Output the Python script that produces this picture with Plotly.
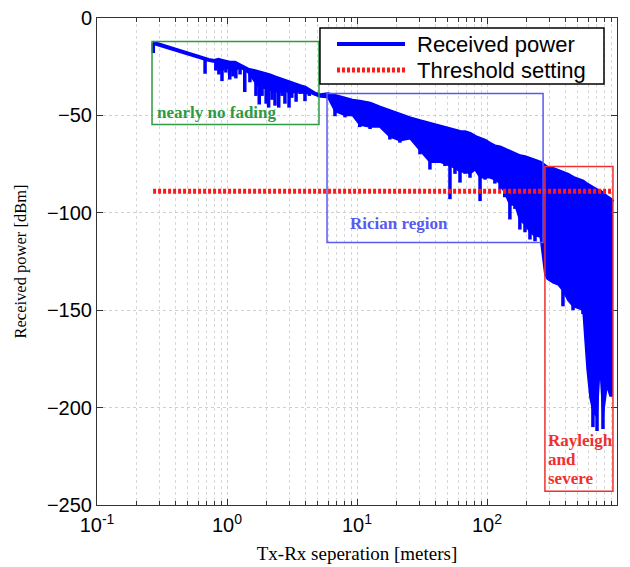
import numpy as np
import plotly.graph_objects as go

# ---- data ----
dist = [0.27, 0.30, 0.60, 0.68, 0.72, 0.80, 0.86, 0.92, 0.98, 1.05, 1.15, 1.26, 1.37, 1.45,
        1.64, 1.79, 1.96, 2.14, 2.34, 2.56, 2.79, 3.05, 3.34, 3.65, 3.98, 4.35, 4.75, 5.19,
        5.98, 6.77, 8.09, 9.2, 10.5, 12.6, 15.0, 17.9, 21.4, 25.6, 30.5, 36.4, 43.5, 47.5,
        51.9, 56.7, 62, 67.7, 74, 80.9, 88.4, 96.6, 105, 115, 126, 137, 150, 164, 179, 196,
        214, 234, 256, 279, 290, 322, 352, 384, 420, 459, 501, 547, 588, 620, 653, 702, 740,
        780, 838, 883, 931]

# upper envelope of received power (dBm)
power_top = [-12.7, -13.7, -20.0, -21.0, -21.5, -22.0, -21.5, -22.0, -22.5, -23.0, -23.0, -24.5,
             -25.5, -26.5, -27.3, -28.0, -28.5, -29.5, -30.5, -31.5, -32.0, -33.0, -34.0, -35.0,
             -35.7, -37.5, -38.9, -39.7, -39.2, -40.0, -41.5, -42.5, -43.0, -44.0, -46.0, -48.0,
             -49.5, -51.5, -53.0, -54.5, -55.5, -56.5, -57.0, -57.8, -58.5, -58.7, -59.5, -61.0,
             -62.0, -63.0, -64.5, -66.0, -66.5, -67.5, -68.5, -69.5, -71.0, -71.5, -72.5, -73.0,
             -74.2, -76.0, -76.8, -77.5, -78.5, -79.3, -80.5, -82.0, -83.0, -84.0, -85.5, -86.5,
             -87.5, -88.5, -89.0, -90.5, -92.0, -93.0, -94.5]

# lower edge of the dense fading band (dBm)
power_floor = [-12.7, -13.7, -20.0, -21.0, -21.5, -22.0, -26.0, -27.0, -25.0, -27.0, -27.0, -25.5,
               -27.0, -28.0, -33.0, -36.0, -36.0, -37.0, -38.0, -38.0, -37.0, -39.0, -38.0, -38.0,
               -39.0, -38.5, -39.5, -40.5, -41.0, -48.0, -50.0, -50.0, -55.0, -56.0, -56.0, -61.0,
               -63.0, -62.0, -68.0, -74.0, -74.0, -75.0, -76.0, -77.0, -79.0, -79.0, -80.0, -78.0,
               -82.0, -82.0, -82.0, -83.0, -85.0, -90.0, -96.0, -96.0, -104.0, -106.0, -110.0,
               -112.0, -112.0, -132.0, -134.0, -136.0, -137.0, -140.0, -145.0, -148.0, -149.0,
               -150.0, -180.0, -195.0, -202.0, -205.0, -179.0, -205.0, -189.0, -194.0, -194.0]

# deep fades (individual spikes): distance (m) and depth (dBm)
fade_dist = [0.271, 0.678, 0.82, 0.866, 0.915, 0.98, 1.05, 1.11, 1.17, 1.26, 1.37, 1.50, 1.67,
             1.77, 1.86, 2.0, 2.09, 2.22, 2.34, 2.5, 2.65, 2.79, 3.0, 3.15, 3.4, 3.65, 3.98, 4.3,
             6.77, 8.09, 10.5, 12.6, 17.9, 21.4, 30.5, 36.4, 43.5, 47.5, 51.9, 56.7, 62, 67.7, 74,
             88.4, 96.6, 115, 126, 137, 150, 164, 179, 196, 214, 234, 256,
             384, 459, 547, 653, 702, 780]
fade_depth = [-18.0, -28.6, -27.0, -29.0, -32.4, -28.0, -31.6, -30.0, -31.0, -29.0, -38.0, -33.0,
              -40.0, -44.4, -40.0, -44.0, -46.0, -42.0, -45.0, -46.0, -40.0, -44.0, -46.0, -41.0,
              -43.0, -39.0, -42.7, -40.0,
              -50.4, -51.0, -56.0, -57.0, -62.4, -64.0, -70.0, -77.8, -74.0, -76.0, -93.0, -80.0,
              -84.5, -80.0, -82.0, -94.0, -83.0, -85.0, -88.0, -92.0, -103.4, -98.0, -108.6,
              -110.0, -113.7, -114.6, -112.7,
              -148.0, -150.0, -152.0, -210.0, -212.0, -211.0]

threshold_x = [0.27, 931]
threshold_y = [-89, -89]

x_major = [0.1, 1, 10, 100, 1000]
x_labels = ["10<sup>-1</sup>", "10<sup>0</sup>", "10<sup>1</sup>", "10<sup>2</sup>", "10<sup>3</sup>"]
x_minor = [m * d for d in [0.1, 1, 10, 100] for m in range(2, 10)]
y_ticks = [0, -50, -100, -150, -200, -250]

BLUE = "#0000ff"
RED = "#ff1a1a"
SANS = "Liberation Sans, Arial, sans-serif"
SERIF = "Liberation Serif, Times New Roman, serif"

# spike segments: from the upper envelope down to each fade depth
fade_top = np.interp(np.log10(fade_dist), np.log10(dist), power_top)
sx, sy = [], []
for d, t, b in zip(fade_dist, fade_top, fade_depth):
    sx += [d, d, None]
    sy += [t, b, None]

fig = go.Figure()
fig.add_trace(go.Scatter(x=dist, y=power_top, mode="lines", name="Received power",
                         line=dict(color=BLUE, width=4), showlegend=False))
fig.add_trace(go.Scatter(x=dist, y=power_floor, mode="lines", showlegend=False,
                         line=dict(color=BLUE, width=1.5),
                         fill="tonexty", fillcolor=BLUE))
fig.add_trace(go.Scatter(x=sx, y=sy, mode="lines", showlegend=False,
                         line=dict(color=BLUE, width=3.5)))
fig.add_trace(go.Scatter(x=threshold_x, y=threshold_y, mode="lines", name="Threshold setting",
                         line=dict(color=RED, width=5, dash="3px,2px"), showlegend=False))

# region boxes (data coords)
fig.add_shape(type="rect", x0=0.265, x1=5.1, y0=-54.7, y1=-12.1,
              line=dict(color="#2e9a45", width=1.5))
fig.add_shape(type="rect", x0=5.88, x1=270, y0=-115.2, y1=-38.8,
              line=dict(color="#5a5af0", width=1.5))
fig.add_shape(type="rect", x0=279, x1=931, y0=-243, y1=-76.2,
              line=dict(color="#f03030", width=1.5))

fig.add_annotation(x=-0.554, y=-48.5, xref="x", yref="y", text="<b>nearly no fading</b>",
                   showarrow=False, xanchor="left", yanchor="middle",
                   font=dict(family=SERIF, size=17, color="#2e9a45"))
fig.add_annotation(x=1.323, y=-105.5, xref="x", yref="y", text="<b>Rician region</b>",
                   showarrow=False, xanchor="center", yanchor="middle",
                   font=dict(family=SERIF, size=17, color="#5a5af0"))
for txt, yv in [("Rayleigh", -217.0), ("and", -226.8), ("severe", -236.2)]:
    fig.add_annotation(x=2.455, y=yv, xref="x", yref="y", text="<b>%s</b>" % txt,
                       showarrow=False, xanchor="left", yanchor="middle",
                       font=dict(family=SERIF, size=17, color="#f03030"))

# legend box (drawn in paper coords)
fig.add_shape(type="rect", xref="paper", yref="paper", x0=0.4288, x1=0.975, y0=0.8645, y1=0.9795,
              line=dict(color="black", width=1.5), fillcolor="white", layer="above")
fig.add_shape(type="line", xref="paper", yref="paper", x0=0.4615, x1=0.5923, y0=0.9466, y1=0.9466,
              line=dict(color=BLUE, width=4), layer="above")
fig.add_shape(type="line", xref="paper", yref="paper", x0=0.4615, x1=0.5923, y0=0.8932, y1=0.8932,
              line=dict(color=RED, width=5, dash="3px,2px"), layer="above")
fig.add_annotation(x=0.6115, y=0.9466, xref="paper", yref="paper", text="Received power",
                   showarrow=False, xanchor="left", yanchor="middle",
                   font=dict(family=SANS, size=22, color="black"))
fig.add_annotation(x=0.6115, y=0.8932, xref="paper", yref="paper", text="Threshold setting",
                   showarrow=False, xanchor="left", yanchor="middle",
                   font=dict(family=SANS, size=22, color="black"))

fig.update_layout(
    width=630, height=567,
    margin=dict(l=97, r=13, t=18, b=62),
    paper_bgcolor="white", plot_bgcolor="white",
    showlegend=False,
)

fig.update_xaxes(type="log", range=[-1, 3], automargin=False,
                 tickmode="array", tickvals=x_major, ticktext=x_labels,
                 tickfont=dict(family=SANS, size=20, color="black"),
                 ticks="inside", ticklen=6, tickcolor="#333", ticklabelstandoff=2,
                 showline=True, linecolor="#333", linewidth=1, mirror="ticks",
                 showgrid=True, gridcolor="#cfcfcf", griddash="dot", gridwidth=1,
                 minor=dict(tickvals=x_minor, ticks="inside", ticklen=4, tickcolor="#333",
                            showgrid=True, gridcolor="#d8d8d8", griddash="dot", gridwidth=1),
                 zeroline=False,
                 title=dict(text="Tx-Rx seperation [meters]", standoff=11,
                            font=dict(family=SERIF, size=19, color="black")))
fig.update_yaxes(range=[-250, 0], tickmode="array", tickvals=y_ticks, automargin=False,
                 tickfont=dict(family=SANS, size=20, color="black"),
                 ticks="inside", ticklen=6, tickcolor="#333",
                 showline=True, linecolor="#333", linewidth=1, mirror="ticks",
                 showgrid=True, gridcolor="#cfcfcf", griddash="dot", gridwidth=1,
                 zeroline=False,
                 title=dict(text="Received power [dBm]", standoff=16,
                            font=dict(family=SERIF, size=16.5, color="black")))

fig.write_html("out.html")
